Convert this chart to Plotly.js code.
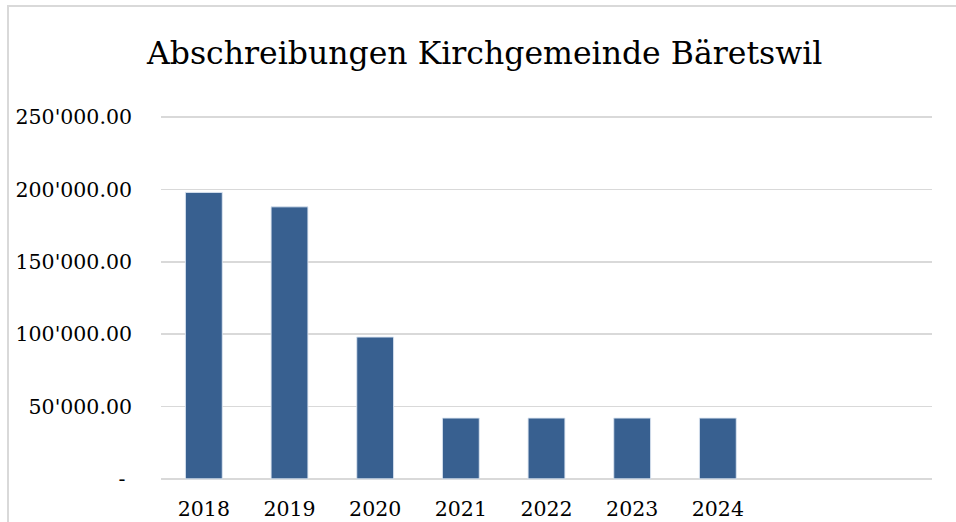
<!DOCTYPE html>
<html><head><meta charset="utf-8">
<script src="https://cdn.plot.ly/plotly-3.0.1.min.js"></script>
<style>
html,body{margin:0;padding:0;background:#fff;}
#wrap{position:relative;width:956px;height:522px;overflow:hidden;}
#frame{position:absolute;left:7px;top:5px;width:980px;height:560px;border-left:2px solid #d9d9d9;border-top:2px solid #d9d9d9;box-sizing:border-box;}
#chart{position:absolute;left:0;top:0;width:956px;height:522px;}
</style></head>
<body><div id="wrap"><div id="frame"></div><div id="chart"></div></div>
<script>
const years = [2018, 2019, 2020, 2021, 2022, 2023, 2024];
const values = [198000, 188000, 98000, 42000, 42000, 42000, 42000];
const yTickVals = [0, 50000, 100000, 150000, 200000, 250000];
const yTickText = ["-\u00a0", "50'000.00", "100'000.00", "150'000.00", "200'000.00", "250'000.00"];
const titleText = "Abschreibungen Kirchgemeinde Bäretswil";
const FONT = "DejaVu Serif, serif";

Plotly.newPlot('chart', [{
  type: 'bar', x: years, y: values, width: 0.43,
  marker: {color: '#386090', line: {color: 'rgba(220,230,242,0.9)', width: 1}},
  hoverinfo: 'none'
}], {
  width: 956, height: 522,
  paper_bgcolor: 'rgba(0,0,0,0)', plot_bgcolor: 'rgba(0,0,0,0)',
  margin: {l: 161, r: 24, t: 115.3, b: 41.1, pad: 0},
  title: {text: titleText, font: {family: FONT, size: 31.5, color: '#000'}, x: 0.507, xanchor: 'center', y: 0.898, yanchor: 'middle'},
  showlegend: false,
  xaxis: {range: [2017.5, 2026.5], tickvals: years, ticktext: years.map(String), showgrid: false, zeroline: false, showline: false, ticks: '', ticklabelstandoff: 13, tickfont: {family: FONT, size: 20.5, color: '#000'}},
  yaxis: {range: [-1500, 251500], tickvals: yTickVals, ticktext: yTickText, showgrid: true, gridcolor: '#d9d9d9', gridwidth: 1.5, zeroline: false, showline: false, ticks: '', ticklabelstandoff: 28, tickfont: {family: FONT, size: 20.5, color: '#000'}}
}, {staticPlot: true});
</script></body></html>
